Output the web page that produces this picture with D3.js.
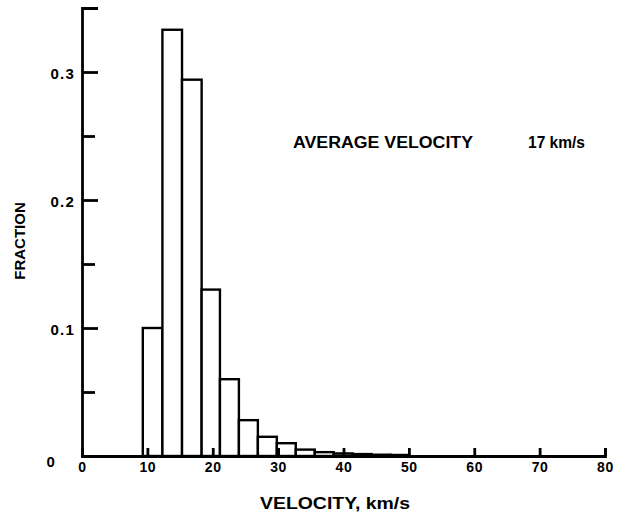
<!DOCTYPE html>
<html>
<head>
<meta charset="utf-8">
<script src="https://cdn.jsdelivr.net/npm/d3@7"></script>
<style>
  html, body { margin: 0; padding: 0; background: #fff; }
  svg { display: block; font-family: 'Liberation Sans', Arial, sans-serif; font-weight: bold; }
</style>
</head>
<body>
<svg id="chart" width="618" height="514"></svg>
<script>
// velocity histogram, bins (km/s)
const binEdges = [9.3, 12.3, 15.3, 18.3, 21.1, 24.0, 26.9, 29.8, 32.7, 35.6, 38.5, 41.4, 44.3, 47.2, 50.1];
const fraction = [0.100, 0.333, 0.294, 0.130, 0.060, 0.028, 0.015, 0.010, 0.005, 0.003, 0.002, 0.0015, 0.001, 0.0008];

const xTicks = [0, 10, 20, 30, 40, 50, 60, 70, 80];
const yMajorTicks = [0, 0.1, 0.2, 0.3];
const yMinorTicks = [0.05, 0.15, 0.25];

const MARGIN = { top: 8, right: 13, bottom: 58, left: 82 };
const width = 618;
const height = 514;
const chartWidth = width - MARGIN.left - MARGIN.right;
const chartHeight = height - MARGIN.top - MARGIN.bottom;
const FONT = "'Liberation Sans', Arial, sans-serif";

const xScale = d3.scaleLinear().domain([0, 80]).range([0, chartWidth]);
const yScale = d3.scaleLinear().domain([0, 0.35]).range([chartHeight, 0]);

const svg = d3.select('#chart');
const g = svg.append('g').attr('transform', `translate(${MARGIN.left},${MARGIN.top})`);

// bars
g.selectAll('rect.bar')
  .data(fraction)
  .enter()
  .append('rect')
  .attr('class', 'bar')
  .attr('x', (d, i) => xScale(binEdges[i]))
  .attr('y', (d) => yScale(d))
  .attr('width', (d, i) => xScale(binEdges[i + 1]) - xScale(binEdges[i]))
  .attr('height', (d) => chartHeight - yScale(d))
  .attr('fill', '#fff')
  .attr('stroke', '#000')
  .attr('stroke-width', 2.4);

// y axis, ticks pointing inward
const yAxis = g.append('g')
  .call(d3.axisLeft(yScale)
    .tickValues(yMajorTicks)
    .tickSizeInner(-16)
    .tickSizeOuter(-16)
    .tickPadding(7)
    .tickFormat((d) => (d === 0 ? '0' : d3.format('.1f')(d))));
yAxis.selectAll('path,line').attr('stroke', '#000').attr('stroke-width', 2.8);
yAxis.selectAll('text')
  .attr('font-size', 15)
  .attr('font-weight', 'bold')
  .attr('font-family', FONT)
  .attr('letter-spacing', 1.2)
  .attr('fill', '#000')
  .attr('dy', '0.4em');
yAxis.selectAll('.tick')
  .filter((d) => d === 0)
  .select('text')
  .attr('x', -26)
  .attr('dy', '0.7em');

const yMinor = g.append('g')
  .call(d3.axisLeft(yScale).tickValues(yMinorTicks).tickSizeInner(-13).tickSizeOuter(0).tickFormat(''));
yMinor.select('.domain').remove();
yMinor.selectAll('line').attr('stroke', '#000').attr('stroke-width', 2.8);

// x axis, ticks pointing up
const xAxis = g.append('g')
  .attr('transform', `translate(0,${chartHeight})`)
  .call(d3.axisBottom(xScale)
    .tickValues(xTicks)
    .tickSizeInner(-8)
    .tickSizeOuter(-8)
    .tickPadding(6));
xAxis.selectAll('path,line').attr('stroke', '#000').attr('stroke-width', 2.8);
xAxis.selectAll('.tick line').filter((d) => d === 0).remove();
xAxis.selectAll('text')
  .attr('font-size', 14)
  .attr('font-weight', 'bold')
  .attr('font-family', FONT)
  .attr('letter-spacing', 0.6)
  .attr('fill', '#000')
  .attr('y', 5)
  .attr('dy', '0.8em');

// titles
svg.append('text')
  .attr('x', 260)
  .attr('y', 509)
  .attr('font-size', 16)
  .attr('textLength', 150)
  .attr('lengthAdjust', 'spacingAndGlyphs')
  .text('VELOCITY, km/s');

svg.append('text')
  .attr('transform', 'translate(25,241) rotate(-90)')
  .attr('text-anchor', 'middle')
  .attr('font-size', 15)
  .text('FRACTION');

svg.append('text')
  .attr('x', 293)
  .attr('y', 148)
  .attr('font-size', 16)
  .attr('textLength', 180)
  .attr('lengthAdjust', 'spacingAndGlyphs')
  .text('AVERAGE VELOCITY');

svg.append('text')
  .attr('x', 528)
  .attr('y', 148)
  .attr('font-size', 16)
  .attr('textLength', 57)
  .attr('lengthAdjust', 'spacingAndGlyphs')
  .text('17 km/s');
</script>
</body>
</html>
